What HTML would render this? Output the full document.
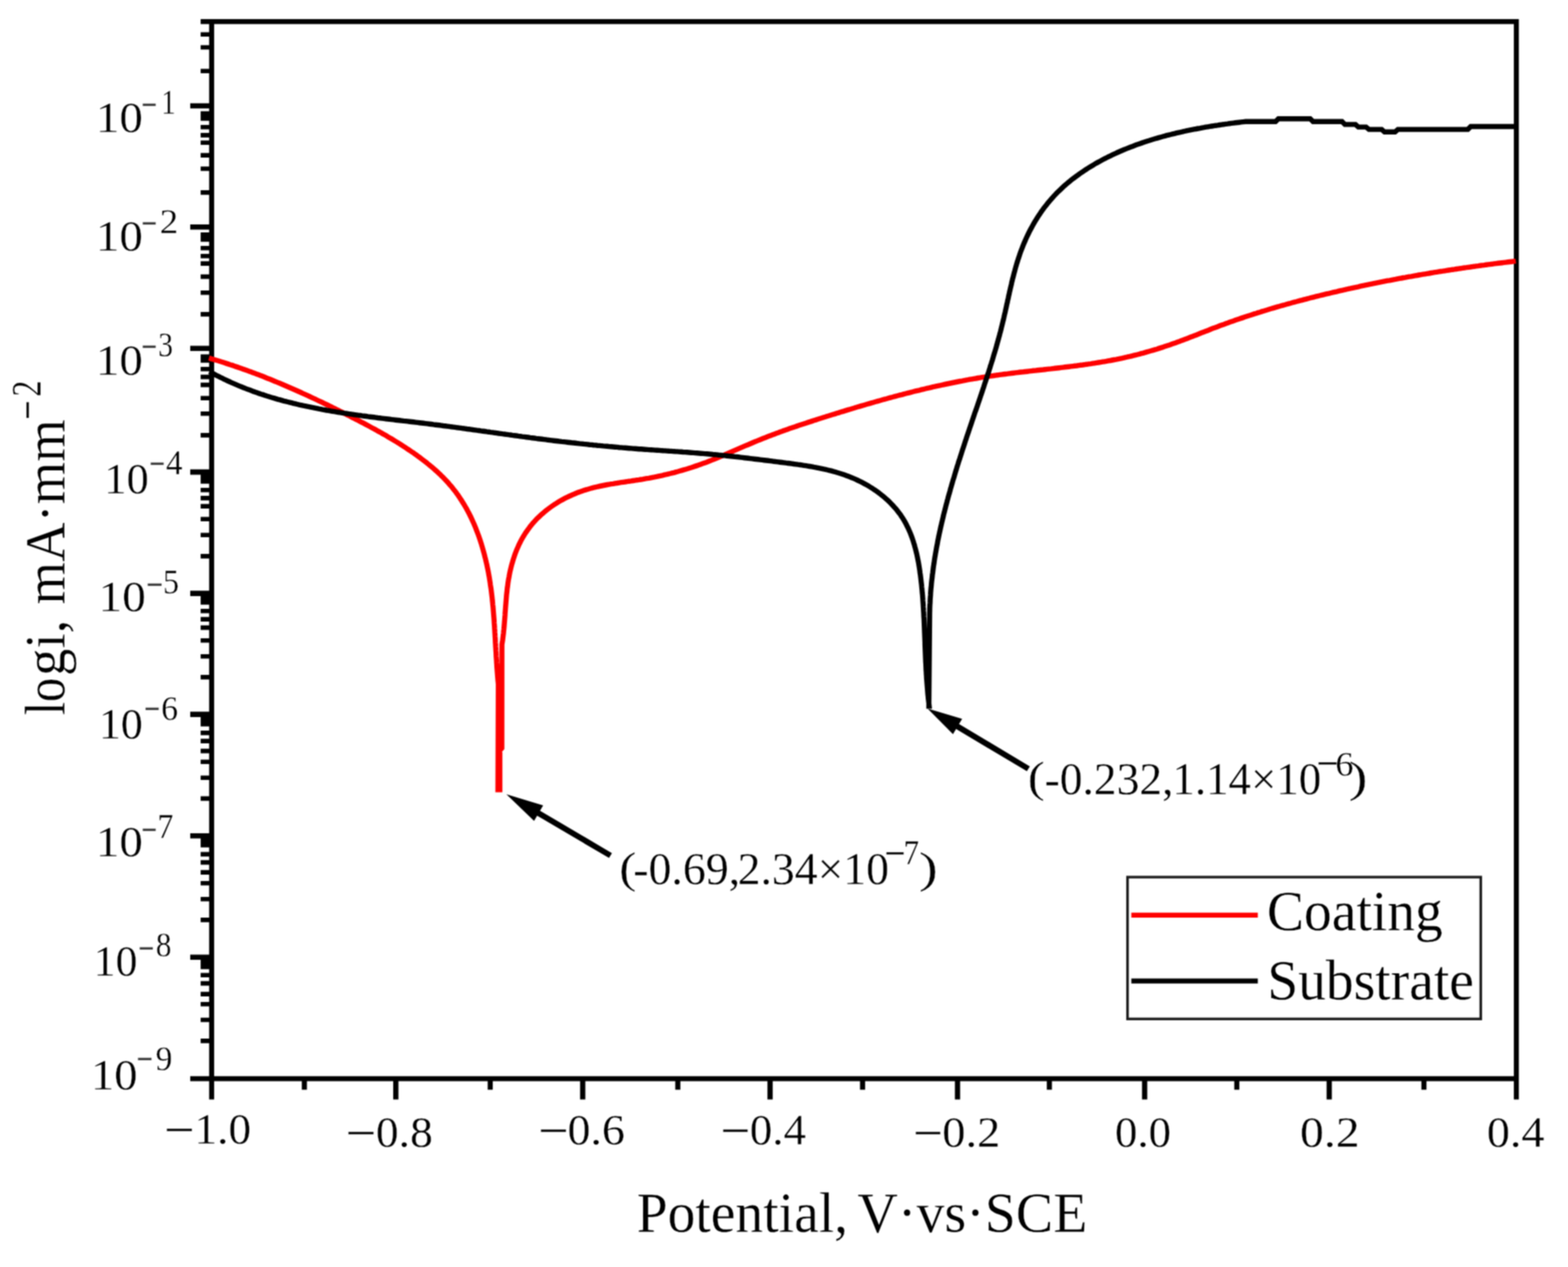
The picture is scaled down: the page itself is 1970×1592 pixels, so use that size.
<!DOCTYPE html>
<html lang="en">
<head>
<meta charset="utf-8">
<title>Polarization curves: Coating vs Substrate</title>
<style>
html,body{margin:0;padding:0;background:#fff;}
body{width:1970px;height:1592px;overflow:hidden;}
svg{display:block;}
svg text{font-family:'Liberation Serif', serif;font-kerning:none;white-space:pre;stroke:#fff;stroke-width:0.3px;}
</style>
</head>
<body>
<svg xmlns="http://www.w3.org/2000/svg" width="1970" height="1592" viewBox="0 0 1970 1592">
<rect width="1970" height="1592" fill="#fff"/>
<defs><filter id="soft" filterUnits="userSpaceOnUse" x="0" y="0" width="1970" height="1592" color-interpolation-filters="sRGB"><feConvolveMatrix order="3" kernelMatrix="1 2 1 2 4 2 1 2 1" divisor="16" edgeMode="duplicate" preserveAlpha="false"/></filter></defs>
<g id="c" filter="url(#soft)">
<g stroke="#000" fill="none" stroke-linecap="butt">
<path stroke-width="6.3" d="M252.1 27.1H1908.25M1905.1 23.950000000000003V1381.6M239.0 1355.3H1905.1M265.9 27.1V1381.6"/>
<path stroke-width="6.6" d="M239.0 133.0H265.9M239.0 285.2H265.9M239.0 437.8H265.9M239.0 593.1H265.9M239.0 745.6H265.9M239.0 897.6H265.9M239.0 1050.2H265.9M239.0 1202.7H265.9M497.3 1355.3V1381.6M732.1 1355.3V1381.6M967.5 1355.3V1381.6M1203.0 1355.3V1381.6M1438.1 1355.3V1381.6M1670.0 1355.3V1381.6"/>
<path stroke-width="5.6" d="M252.1 43.3H265.9M252.1 59.5H265.9M252.1 89.3H265.9M252.1 159.7H265.9M252.1 169.9H265.9M252.1 179.2H265.9M252.1 195.1H265.9M252.1 212.0H265.9M252.1 241.9H265.9M252.1 311.7H265.9M252.1 321.7H265.9M252.1 331.1H265.9M252.1 347.6H265.9M252.1 367.7H265.9M252.1 394.9H265.9M252.1 463.7H265.9M252.1 473.6H265.9M252.1 483.6H265.9M252.1 500.2H265.9M252.1 519.7H265.9M252.1 546.9H265.9M252.1 615.7H265.9M252.1 625.9H265.9M252.1 636.1H265.9M252.1 652.2H265.9M252.1 672.3H265.9M252.1 698.9H265.9M252.1 767.7H265.9M252.1 778.1H265.9M252.1 788.6H265.9M252.1 804.7H265.9M252.1 824.8H265.9M252.1 850.9H265.9M252.1 920.9H265.9M252.1 931.1H265.9M252.1 943.6H265.9M252.1 957.2H265.9M252.1 977.3H265.9M252.1 1003.4H265.9M252.1 1073.4H265.9M252.1 1083.6H265.9M252.1 1096.1H265.9M252.1 1109.7H265.9M252.1 1129.8H265.9M252.1 1155.9H265.9M252.1 1225.2H265.9M252.1 1235.6H265.9M252.1 1249.1H265.9M252.1 1261.7H265.9M252.1 1281.5H265.9M252.1 1307.9H265.9"/>
<path stroke-width="6.4" d="M382.4 1355.3V1369.2M615.9 1355.3V1369.2M851.6 1355.3V1369.2M1083.7 1355.3V1369.2M1318.4 1355.3V1369.2M1553.9 1355.3V1369.2M1789.0 1355.3V1369.2"/>
<path stroke="none" fill="#000" d="M252.1 139.7H265.9V151.8H252.1ZM252.1 292.1H265.9V303.7H252.1ZM252.1 445.2H265.9V455.8H252.1ZM252.1 593.1H265.9V607.7H252.1ZM252.1 745.6H265.9V759.7H252.1ZM252.1 897.6H265.9V912.7H252.1ZM252.1 1050.2H265.9V1064.7H252.1ZM252.1 1202.7H265.9V1217.7H252.1Z"/>
</g>
<path d="M262.5 449.9L264.9 450.6L267.4 451.3L269.8 452.1L272.2 452.8L274.7 453.5L277.1 454.3L279.5 455.0L281.9 455.8L284.3 456.6L286.7 457.4L289.1 458.2L291.5 458.9L293.9 459.8L296.3 460.6L298.7 461.4L301.1 462.2L303.4 463.0L305.8 463.9L308.2 464.7L310.5 465.6L312.9 466.4L315.3 467.3L317.6 468.2L320.0 469.1L322.3 469.9L324.7 470.8L327.0 471.7L329.3 472.6L331.7 473.5L334.0 474.5L336.3 475.4L338.6 476.3L341.0 477.3L343.3 478.2L345.6 479.2L347.9 480.1L350.2 481.1L352.5 482.0L354.8 483.0L357.1 484.0L359.4 485.0L361.7 486.0L364.0 487.0L366.3 488.0L368.6 489.0L370.9 490.0L373.2 491.0L375.4 492.0L377.7 493.0L380.0 494.1L382.3 495.1L384.5 496.1L386.8 497.2L389.1 498.2L391.3 499.3L393.6 500.4L395.9 501.4L398.1 502.5L400.4 503.6L402.7 504.6L404.9 505.7L407.2 506.8L409.4 507.9L411.7 509.0L413.9 510.1L416.2 511.2L418.4 512.3L420.7 513.4L422.9 514.5L425.2 515.7L427.4 516.8L429.7 517.9L431.9 519.1L434.2 520.2L436.4 521.3L438.7 522.5L440.9 523.6L443.1 524.8L445.4 525.9L447.6 527.1L449.9 528.2L452.1 529.4L454.4 530.6L456.6 531.7L458.8 532.9L461.1 534.1L463.3 535.3L465.5 536.5L467.7 537.7L470.0 538.9L472.2 540.1L474.4 541.4L476.6 542.6L478.8 543.8L481.0 545.1L483.2 546.3L485.4 547.6L487.6 548.9L489.8 550.2L491.9 551.4L494.1 552.7L496.3 554.1L498.4 555.4L500.6 556.7L502.7 558.1L504.9 559.4L507.0 560.8L509.1 562.2L511.2 563.6L513.3 565.0L515.4 566.4L517.5 567.8L519.6 569.2L521.6 570.7L523.7 572.2L525.7 573.7L527.8 575.2L529.8 576.7L531.8 578.2L533.8 579.7L535.8 581.3L537.7 582.9L539.7 584.5L541.6 586.1L543.6 587.7L545.5 589.4L547.3 591.0L549.2 592.7L551.0 594.4L552.9 596.1L554.7 597.9L556.4 599.6L558.2 601.4L559.9 603.2L561.6 605.0L563.3 606.9L564.9 608.8L566.5 610.6L568.1 612.6L569.6 614.5L571.2 616.4L572.7 618.4L574.1 620.4L575.6 622.4L577.0 624.5L578.3 626.5L579.7 628.6L581.0 630.7L582.3 632.8L583.6 634.9L584.8 637.0L586.1 639.2L587.3 641.4L588.4 643.6L589.6 645.8L590.7 648.0L591.8 650.2L592.8 652.5L593.9 654.8L594.9 657.0L595.9 659.3L596.9 661.6L597.8 663.9L598.7 666.3L599.6 668.6L600.5 671.0L601.4 673.3L602.2 675.7L603.0 678.1L603.8 680.5L604.6 682.9L605.3 685.3L606.0 687.7L606.7 690.1L607.4 692.6L608.1 695.0L608.7 697.5L609.3 699.9L610.0 702.4L610.5 704.8L611.1 707.3L611.7 709.8L612.2 712.3L612.7 714.7L613.2 717.2L613.7 719.7L614.1 722.2L614.6 724.7L615.0 727.2L615.4 729.7L615.8 732.2L616.1 734.7L616.5 737.2L616.9 739.7L617.2 742.2L617.5 744.7L617.8 747.2L618.1 749.7L618.4 752.2L618.6 754.7L618.9 757.3L619.1 759.8L619.4 762.3L619.6 764.8L619.8 767.3L620.0 769.8L620.2 772.3L620.4 774.8L620.6 777.3L620.8 779.9L620.9 782.4L621.1 784.9L621.3 787.4L621.4 789.9L621.6 792.4L621.7 794.9L621.9 797.4L622.0 799.9L622.2 802.5L622.3 805.0L622.4 807.5L622.6 810.0L622.7 812.5L622.9 815.0L623.0 817.5L623.2 820.0L623.3 822.5L623.4 825.0L623.6 827.5L623.8 830.0L623.9 832.5L624.1 835.0L624.2 837.5L624.4 840.0L624.6 842.5L624.8 845.0L625.0 847.4L625.2 849.9L625.4 852.4L625.6 854.9L625.9 857.4L626.1 859.8L625.6 992.3L628.0 992.3L628.0 943.0L630.5 940.0L630.6 809.8L631.0 807.4L631.4 805.0L631.7 802.6L632.0 800.2L632.3 797.7L632.6 795.3L632.8 792.8L633.1 790.3L633.3 787.9L633.5 785.4L633.7 782.9L633.9 780.4L634.1 777.9L634.3 775.4L634.5 772.9L634.6 770.4L634.8 767.9L635.0 765.4L635.2 762.8L635.4 760.3L635.6 757.8L635.8 755.3L636.0 752.8L636.2 750.2L636.4 747.7L636.7 745.2L637.0 742.7L637.2 740.1L637.6 737.6L637.9 735.1L638.2 732.6L638.6 730.1L639.0 727.6L639.5 725.1L639.9 722.6L640.4 720.2L640.9 717.7L641.5 715.2L642.1 712.8L642.7 710.3L643.4 707.9L644.1 705.5L644.8 703.1L645.6 700.7L646.4 698.3L647.2 695.9L648.1 693.6L649.0 691.3L650.0 689.0L651.0 686.7L652.0 684.4L653.1 682.2L654.2 680.0L655.4 677.8L656.6 675.6L657.9 673.5L659.2 671.4L660.5 669.3L661.9 667.3L663.3 665.3L664.8 663.3L666.3 661.3L667.8 659.4L669.4 657.5L671.1 655.7L672.7 653.9L674.4 652.1L676.2 650.3L678.0 648.6L679.8 646.9L681.7 645.3L683.6 643.6L685.5 642.0L687.4 640.5L689.4 639.0L691.4 637.5L693.5 636.0L695.5 634.6L697.6 633.3L699.7 631.9L701.9 630.6L704.0 629.3L706.2 628.1L708.4 626.9L710.7 625.7L712.9 624.6L715.2 623.5L717.5 622.5L719.8 621.4L722.1 620.5L724.4 619.5L726.7 618.6L729.1 617.8L731.5 616.9L733.8 616.1L736.2 615.4L738.6 614.7L741.0 614.0L743.4 613.3L745.8 612.7L748.3 612.1L750.7 611.5L753.1 611.0L755.6 610.5L758.0 610.0L760.5 609.5L763.0 609.0L765.4 608.6L767.9 608.2L770.4 607.8L772.9 607.3L775.4 607.0L777.8 606.6L780.3 606.2L782.8 605.8L785.3 605.5L787.8 605.1L790.3 604.7L792.8 604.4L795.3 604.0L797.8 603.6L800.2 603.2L802.7 602.9L805.2 602.5L807.7 602.1L810.2 601.6L812.6 601.2L815.1 600.8L817.6 600.3L820.0 599.8L822.5 599.4L825.0 598.9L827.4 598.3L829.9 597.8L832.3 597.3L834.8 596.7L837.2 596.2L839.6 595.6L842.0 595.0L844.5 594.4L846.9 593.8L849.3 593.1L851.7 592.5L854.1 591.8L856.5 591.1L858.9 590.4L861.3 589.7L863.7 589.0L866.1 588.2L868.5 587.5L870.8 586.7L873.2 585.9L875.6 585.1L877.9 584.3L880.3 583.4L882.6 582.6L885.0 581.7L887.3 580.9L889.7 580.0L892.0 579.1L894.3 578.1L896.6 577.2L899.0 576.3L901.3 575.3L903.6 574.3L905.9 573.4L908.2 572.4L910.5 571.4L912.8 570.4L915.1 569.4L917.4 568.4L919.7 567.4L922.0 566.4L924.3 565.4L926.6 564.4L928.9 563.4L931.2 562.4L933.5 561.4L935.8 560.4L938.1 559.4L940.5 558.5L942.8 557.5L945.1 556.5L947.4 555.5L949.7 554.6L952.0 553.6L954.3 552.7L956.7 551.7L959.0 550.8L961.3 549.9L963.6 549.0L966.0 548.1L968.3 547.2L970.7 546.3L973.0 545.4L975.3 544.5L977.7 543.7L980.0 542.8L982.4 542.0L984.7 541.1L987.1 540.3L989.5 539.4L991.8 538.6L994.2 537.8L996.5 537.0L998.9 536.2L1001.3 535.4L1003.6 534.6L1006.0 533.8L1008.4 533.0L1010.8 532.2L1013.1 531.4L1015.5 530.6L1017.9 529.9L1020.3 529.1L1022.7 528.3L1025.0 527.6L1027.4 526.8L1029.8 526.0L1032.2 525.3L1034.6 524.5L1037.0 523.8L1039.4 523.0L1041.8 522.3L1044.2 521.5L1046.5 520.8L1048.9 520.1L1051.3 519.3L1053.7 518.6L1056.1 517.8L1058.5 517.1L1060.9 516.4L1063.3 515.6L1065.7 514.9L1068.1 514.2L1070.5 513.5L1072.9 512.8L1075.3 512.0L1077.7 511.3L1080.1 510.6L1082.5 509.9L1084.9 509.2L1087.3 508.5L1089.7 507.8L1092.2 507.1L1094.6 506.4L1097.0 505.7L1099.4 505.0L1101.8 504.3L1104.2 503.7L1106.6 503.0L1109.0 502.3L1111.4 501.6L1113.9 501.0L1116.3 500.3L1118.7 499.6L1121.1 499.0L1123.5 498.3L1126.0 497.7L1128.4 497.0L1130.8 496.4L1133.2 495.8L1135.7 495.1L1138.1 494.5L1140.5 493.9L1142.9 493.3L1145.4 492.7L1147.8 492.0L1150.2 491.4L1152.7 490.8L1155.1 490.3L1157.5 489.7L1160.0 489.1L1162.4 488.5L1164.8 487.9L1167.3 487.4L1169.7 486.8L1172.2 486.2L1174.6 485.7L1177.0 485.1L1179.5 484.6L1181.9 484.1L1184.4 483.5L1186.8 483.0L1189.3 482.5L1191.7 482.0L1194.2 481.5L1196.6 481.0L1199.1 480.5L1201.5 480.0L1204.0 479.5L1206.5 479.0L1208.9 478.6L1211.4 478.1L1213.8 477.6L1216.3 477.2L1218.8 476.7L1221.2 476.3L1223.7 475.9L1226.2 475.5L1228.6 475.0L1231.1 474.6L1233.6 474.2L1236.1 473.8L1238.5 473.5L1241.0 473.1L1243.5 472.7L1246.0 472.3L1248.4 472.0L1250.9 471.6L1253.4 471.3L1255.9 470.9L1258.4 470.6L1260.8 470.3L1263.3 470.0L1265.8 469.7L1268.3 469.3L1270.8 469.0L1273.3 468.7L1275.8 468.4L1278.3 468.1L1280.7 467.8L1283.2 467.5L1285.7 467.3L1288.2 467.0L1290.7 466.7L1293.2 466.4L1295.7 466.1L1298.2 465.8L1300.7 465.6L1303.2 465.3L1305.7 465.0L1308.2 464.7L1310.6 464.5L1313.1 464.2L1315.6 463.9L1318.1 463.6L1320.6 463.4L1323.1 463.1L1325.6 462.8L1328.1 462.5L1330.6 462.2L1333.1 461.9L1335.6 461.6L1338.0 461.3L1340.5 461.0L1343.0 460.7L1345.5 460.4L1348.0 460.1L1350.5 459.8L1353.0 459.5L1355.4 459.1L1357.9 458.8L1360.4 458.5L1362.9 458.1L1365.3 457.8L1367.8 457.4L1370.3 457.1L1372.8 456.7L1375.2 456.3L1377.7 455.9L1380.2 455.5L1382.7 455.1L1385.1 454.7L1387.6 454.3L1390.0 453.9L1392.5 453.4L1395.0 453.0L1397.4 452.5L1399.9 452.0L1402.3 451.6L1404.8 451.1L1407.2 450.6L1409.7 450.1L1412.1 449.5L1414.6 449.0L1417.0 448.4L1419.4 447.9L1421.9 447.3L1424.3 446.7L1426.7 446.1L1429.2 445.5L1431.6 444.9L1434.0 444.2L1436.4 443.6L1438.8 442.9L1441.3 442.2L1443.7 441.5L1446.1 440.8L1448.5 440.1L1450.9 439.4L1453.3 438.7L1455.7 437.9L1458.1 437.1L1460.5 436.4L1462.8 435.6L1465.2 434.8L1467.6 434.0L1470.0 433.2L1472.4 432.3L1474.7 431.5L1477.1 430.7L1479.5 429.8L1481.8 429.0L1484.2 428.1L1486.5 427.2L1488.9 426.3L1491.2 425.4L1493.6 424.5L1495.9 423.6L1498.2 422.7L1500.6 421.8L1502.9 420.9L1505.2 420.0L1507.6 419.0L1509.9 418.1L1512.2 417.2L1514.6 416.3L1516.9 415.4L1519.2 414.5L1521.5 413.5L1523.9 412.6L1526.2 411.8L1528.6 410.9L1530.9 410.0L1533.2 409.1L1535.6 408.2L1537.9 407.4L1540.3 406.5L1542.6 405.7L1545.0 404.8L1547.4 404.0L1549.7 403.2L1552.1 402.3L1554.4 401.5L1556.8 400.7L1559.2 399.9L1561.6 399.1L1563.9 398.3L1566.3 397.5L1568.7 396.7L1571.1 396.0L1573.4 395.2L1575.8 394.4L1578.2 393.7L1580.6 392.9L1583.0 392.2L1585.4 391.4L1587.8 390.7L1590.2 390.0L1592.5 389.3L1594.9 388.5L1597.3 387.8L1599.7 387.1L1602.1 386.4L1604.6 385.7L1607.0 385.0L1609.4 384.3L1611.8 383.6L1614.2 383.0L1616.6 382.3L1619.0 381.6L1621.4 381.0L1623.8 380.3L1626.2 379.6L1628.7 379.0L1631.1 378.3L1633.5 377.7L1635.9 377.1L1638.4 376.4L1640.8 375.8L1643.2 375.2L1645.6 374.5L1648.1 373.9L1650.5 373.3L1652.9 372.7L1655.3 372.1L1657.8 371.5L1660.2 370.9L1662.6 370.3L1665.1 369.7L1667.5 369.1L1670.0 368.6L1672.4 368.0L1674.8 367.4L1677.3 366.8L1679.7 366.3L1682.2 365.7L1684.6 365.1L1687.0 364.6L1689.5 364.0L1691.9 363.5L1694.4 362.9L1696.8 362.4L1699.3 361.8L1701.7 361.3L1704.2 360.8L1706.6 360.3L1709.1 359.7L1711.5 359.2L1714.0 358.7L1716.4 358.2L1718.9 357.7L1721.3 357.2L1723.8 356.7L1726.2 356.2L1728.7 355.7L1731.2 355.2L1733.6 354.7L1736.1 354.2L1738.5 353.7L1741.0 353.2L1743.4 352.7L1745.9 352.3L1748.4 351.8L1750.8 351.3L1753.3 350.9L1755.8 350.4L1758.2 349.9L1760.7 349.5L1763.2 349.0L1765.6 348.6L1768.1 348.1L1770.6 347.7L1773.0 347.3L1775.5 346.8L1778.0 346.4L1780.4 346.0L1782.9 345.5L1785.4 345.1L1787.8 344.7L1790.3 344.3L1792.8 343.9L1795.3 343.5L1797.7 343.0L1800.2 342.6L1802.7 342.2L1805.2 341.8L1807.6 341.4L1810.1 341.0L1812.6 340.7L1815.1 340.3L1817.5 339.9L1820.0 339.5L1822.5 339.1L1825.0 338.7L1827.4 338.4L1829.9 338.0L1832.4 337.6L1834.9 337.3L1837.4 336.9L1839.8 336.5L1842.3 336.2L1844.8 335.8L1847.3 335.5L1849.8 335.1L1852.2 334.8L1854.7 334.4L1857.2 334.1L1859.7 333.7L1862.2 333.4L1864.7 333.1L1867.1 332.7L1869.6 332.4L1872.1 332.1L1874.6 331.8L1877.1 331.4L1879.5 331.1L1882.0 330.8L1884.5 330.5L1887.0 330.2L1889.5 329.9L1892.0 329.6L1894.5 329.3L1896.9 329.0L1899.4 328.7L1901.9 328.4L1904.4 328.1" fill="none" stroke="#ff0000" stroke-width="6.4" stroke-linejoin="miter" stroke-miterlimit="3"/>
<path d="M263.2 466.9L265.4 468.2L267.7 469.4L269.9 470.6L272.2 471.8L274.5 472.9L276.8 474.1L279.1 475.2L281.3 476.3L283.6 477.4L285.9 478.5L288.2 479.5L290.5 480.6L292.9 481.6L295.2 482.6L297.5 483.6L299.8 484.6L302.1 485.6L304.5 486.5L306.8 487.4L309.1 488.4L311.5 489.3L313.8 490.1L316.2 491.0L318.5 491.9L320.9 492.7L323.2 493.5L325.6 494.4L328.0 495.2L330.4 495.9L332.7 496.7L335.1 497.5L337.5 498.2L339.9 499.0L342.3 499.7L344.7 500.4L347.0 501.1L349.4 501.8L351.8 502.4L354.2 503.1L356.7 503.8L359.1 504.4L361.5 505.0L363.9 505.6L366.3 506.2L368.7 506.8L371.2 507.4L373.6 508.0L376.0 508.6L378.4 509.1L380.9 509.7L383.3 510.2L385.7 510.7L388.2 511.2L390.6 511.7L393.1 512.2L395.5 512.7L398.0 513.2L400.4 513.7L402.9 514.1L405.3 514.6L407.8 515.0L410.2 515.5L412.7 515.9L415.2 516.4L417.6 516.8L420.1 517.2L422.6 517.6L425.0 518.0L427.5 518.4L430.0 518.8L432.5 519.2L434.9 519.5L437.4 519.9L439.9 520.3L442.4 520.6L444.8 521.0L447.3 521.3L449.8 521.7L452.3 522.0L454.8 522.4L457.3 522.7L459.8 523.0L462.2 523.4L464.7 523.7L467.2 524.0L469.7 524.3L472.2 524.6L474.7 525.0L477.2 525.3L479.7 525.6L482.2 525.9L484.7 526.2L487.2 526.5L489.6 526.8L492.1 527.1L494.6 527.4L497.1 527.7L499.6 528.0L502.1 528.3L504.6 528.6L507.1 528.9L509.6 529.1L512.1 529.4L514.6 529.7L517.1 530.0L519.6 530.3L522.1 530.6L524.6 530.9L527.1 531.2L529.6 531.5L532.0 531.8L534.5 532.1L537.0 532.4L539.5 532.7L542.0 533.0L544.5 533.4L547.0 533.7L549.5 534.0L552.0 534.3L554.5 534.6L556.9 535.0L559.4 535.3L561.9 535.6L564.4 535.9L566.9 536.3L569.4 536.6L571.8 536.9L574.3 537.3L576.8 537.6L579.3 537.9L581.8 538.3L584.3 538.6L586.7 539.0L589.2 539.3L591.7 539.6L594.2 540.0L596.6 540.3L599.1 540.7L601.6 541.0L604.1 541.4L606.6 541.7L609.0 542.0L611.5 542.4L614.0 542.7L616.5 543.1L619.0 543.4L621.4 543.8L623.9 544.1L626.4 544.5L628.9 544.8L631.3 545.2L633.8 545.5L636.3 545.8L638.8 546.2L641.2 546.5L643.7 546.9L646.2 547.2L648.7 547.5L651.2 547.9L653.6 548.2L656.1 548.6L658.6 548.9L661.1 549.2L663.5 549.5L666.0 549.9L668.5 550.2L671.0 550.5L673.5 550.9L675.9 551.2L678.4 551.5L680.9 551.8L683.4 552.1L685.9 552.4L688.4 552.8L690.8 553.1L693.3 553.4L695.8 553.7L698.3 554.0L700.8 554.3L703.3 554.6L705.7 554.9L708.2 555.1L710.7 555.4L713.2 555.7L715.7 556.0L718.2 556.3L720.7 556.5L723.1 556.8L725.6 557.1L728.1 557.4L730.6 557.6L733.1 557.9L735.6 558.1L738.1 558.4L740.6 558.7L743.1 558.9L745.6 559.2L748.1 559.4L750.6 559.7L753.1 559.9L755.5 560.1L758.0 560.4L760.5 560.6L763.0 560.8L765.5 561.1L768.0 561.3L770.5 561.5L773.0 561.7L775.5 561.9L778.0 562.2L780.5 562.4L783.0 562.6L785.5 562.8L788.0 563.0L790.5 563.2L793.0 563.4L795.5 563.6L798.0 563.8L800.5 564.0L803.0 564.2L805.6 564.3L808.1 564.5L810.6 564.7L813.1 564.9L815.6 565.1L818.1 565.2L820.6 565.4L823.1 565.6L825.6 565.7L828.1 565.9L830.6 566.1L833.1 566.3L835.6 566.4L838.1 566.6L840.6 566.8L843.1 566.9L845.6 567.1L848.2 567.3L850.7 567.4L853.2 567.6L855.7 567.8L858.2 568.0L860.7 568.1L863.2 568.3L865.7 568.5L868.2 568.7L870.7 568.9L873.2 569.1L875.7 569.3L878.1 569.5L880.6 569.7L883.1 569.9L885.6 570.1L888.1 570.3L890.6 570.5L893.1 570.7L895.6 571.0L898.1 571.2L900.5 571.4L903.0 571.7L905.5 571.9L908.0 572.2L910.5 572.4L912.9 572.7L915.4 573.0L917.9 573.2L920.4 573.5L922.8 573.8L925.3 574.0L927.8 574.3L930.3 574.6L932.7 574.9L935.2 575.2L937.7 575.5L940.2 575.8L942.6 576.1L945.1 576.4L947.6 576.7L950.1 577.0L952.6 577.3L955.0 577.6L957.5 577.9L960.0 578.2L962.5 578.5L965.0 578.8L967.5 579.1L969.9 579.4L972.4 579.8L974.9 580.1L977.4 580.4L979.9 580.7L982.4 581.0L984.9 581.3L987.4 581.7L989.9 582.0L992.4 582.3L994.9 582.6L997.4 583.0L1000.0 583.3L1002.5 583.7L1005.0 584.0L1007.5 584.4L1010.0 584.8L1012.5 585.2L1015.0 585.6L1017.4 586.0L1019.9 586.4L1022.4 586.9L1024.9 587.3L1027.4 587.8L1029.9 588.3L1032.3 588.8L1034.8 589.4L1037.2 589.9L1039.7 590.5L1042.1 591.1L1044.5 591.7L1047.0 592.4L1049.4 593.0L1051.8 593.8L1054.2 594.5L1056.6 595.2L1059.0 596.0L1061.3 596.8L1063.7 597.7L1066.0 598.6L1068.4 599.5L1070.7 600.4L1073.0 601.4L1075.3 602.4L1077.6 603.5L1079.9 604.6L1082.1 605.7L1084.4 606.9L1086.6 608.1L1088.8 609.3L1091.0 610.6L1093.1 611.9L1095.3 613.2L1097.4 614.6L1099.5 616.0L1101.5 617.4L1103.6 618.9L1105.6 620.4L1107.5 622.0L1109.5 623.5L1111.4 625.1L1113.3 626.8L1115.1 628.4L1116.9 630.1L1118.7 631.9L1120.4 633.7L1122.1 635.5L1123.7 637.3L1125.4 639.2L1126.9 641.0L1128.4 643.0L1129.9 644.9L1131.4 646.9L1132.7 648.9L1134.1 651.0L1135.4 653.1L1136.6 655.2L1137.8 657.3L1138.9 659.5L1140.0 661.7L1141.1 663.9L1142.1 666.2L1143.1 668.4L1144.0 670.7L1144.9 673.0L1145.8 675.4L1146.6 677.7L1147.4 680.1L1148.1 682.5L1148.9 684.9L1149.5 687.3L1150.2 689.7L1150.8 692.2L1151.4 694.6L1152.0 697.1L1152.5 699.6L1153.0 702.1L1153.5 704.6L1154.0 707.1L1154.4 709.6L1154.8 712.1L1155.2 714.6L1155.6 717.1L1155.9 719.7L1156.3 722.2L1156.6 724.7L1156.9 727.2L1157.2 729.8L1157.5 732.3L1157.8 734.8L1158.0 737.3L1158.3 739.8L1158.5 742.4L1158.7 744.9L1159.0 747.4L1159.2 749.9L1159.4 752.4L1159.5 754.9L1159.7 757.4L1159.9 759.9L1160.0 762.4L1160.2 764.9L1160.3 767.4L1160.5 769.9L1160.6 772.4L1160.7 774.9L1160.9 777.4L1161.0 779.9L1161.1 782.4L1161.2 784.9L1161.3 787.4L1161.4 789.8L1161.5 792.3L1161.6 794.8L1161.7 797.3L1161.8 799.8L1161.9 802.3L1162.0 804.8L1162.1 807.3L1162.1 809.7L1162.2 812.2L1162.3 814.7L1162.4 817.2L1162.5 819.7L1162.6 822.2L1162.7 824.7L1162.8 827.2L1162.9 829.6L1163.0 832.1L1163.2 834.6L1163.3 837.1L1163.4 839.6L1163.5 842.1L1163.7 844.6L1163.8 847.1L1164.0 849.6L1164.1 852.1L1164.3 854.6L1164.5 857.1L1164.7 859.6L1164.9 862.1L1165.1 864.6L1165.3 867.1L1165.5 869.6L1165.7 872.1L1166.0 874.6L1166.2 877.1L1166.5 879.7L1166.8 882.2L1167.1 884.7L1167.4 887.2L1167.0 887.2L1168.0 770.2L1168.1 767.7L1168.1 765.1L1168.2 762.6L1168.3 760.1L1168.5 757.5L1168.6 755.0L1168.7 752.5L1168.9 750.0L1169.1 747.5L1169.2 745.0L1169.4 742.5L1169.6 739.9L1169.9 737.4L1170.1 734.9L1170.3 732.4L1170.6 729.9L1170.9 727.4L1171.2 724.9L1171.4 722.5L1171.8 720.0L1172.1 717.5L1172.4 715.0L1172.7 712.5L1173.1 710.0L1173.5 707.6L1173.8 705.1L1174.2 702.6L1174.6 700.1L1175.0 697.7L1175.4 695.2L1175.9 692.7L1176.3 690.2L1176.7 687.8L1177.2 685.3L1177.7 682.9L1178.1 680.4L1178.6 677.9L1179.1 675.5L1179.6 673.0L1180.1 670.6L1180.7 668.1L1181.2 665.7L1181.7 663.3L1182.3 660.8L1182.8 658.4L1183.4 655.9L1184.0 653.5L1184.6 651.0L1185.2 648.6L1185.7 646.2L1186.4 643.7L1187.0 641.3L1187.6 638.9L1188.2 636.5L1188.8 634.0L1189.5 631.6L1190.1 629.2L1190.8 626.8L1191.4 624.3L1192.1 621.9L1192.8 619.5L1193.5 617.1L1194.1 614.7L1194.8 612.3L1195.5 609.9L1196.2 607.5L1196.9 605.0L1197.6 602.6L1198.4 600.2L1199.1 597.8L1199.8 595.4L1200.5 593.0L1201.3 590.6L1202.0 588.2L1202.7 585.8L1203.5 583.4L1204.2 581.0L1205.0 578.6L1205.8 576.2L1206.5 573.9L1207.3 571.5L1208.1 569.1L1208.8 566.7L1209.6 564.3L1210.4 561.9L1211.2 559.5L1212.0 557.1L1212.7 554.8L1213.5 552.4L1214.3 550.0L1215.1 547.6L1215.9 545.2L1216.7 542.9L1217.5 540.5L1218.3 538.1L1219.1 535.7L1219.9 533.4L1220.7 531.0L1221.5 528.6L1222.3 526.2L1223.1 523.9L1223.9 521.5L1224.7 519.1L1225.5 516.8L1226.4 514.4L1227.2 512.0L1228.0 509.7L1228.8 507.3L1229.6 504.9L1230.4 502.6L1231.2 500.2L1232.0 497.8L1232.8 495.4L1233.6 493.1L1234.4 490.7L1235.2 488.3L1236.0 486.0L1236.7 483.6L1237.5 481.2L1238.3 478.9L1239.1 476.5L1239.9 474.1L1240.6 471.7L1241.4 469.4L1242.2 467.0L1242.9 464.6L1243.7 462.2L1244.4 459.8L1245.2 457.4L1245.9 455.1L1246.7 452.7L1247.4 450.3L1248.1 447.9L1248.8 445.5L1249.6 443.1L1250.3 440.7L1251.0 438.3L1251.7 435.9L1252.4 433.5L1253.0 431.1L1253.7 428.6L1254.4 426.2L1255.0 423.8L1255.7 421.4L1256.3 419.0L1257.0 416.5L1257.6 414.1L1258.2 411.6L1258.8 409.2L1259.4 406.8L1260.0 404.3L1260.6 401.9L1261.2 399.4L1261.7 396.9L1262.3 394.5L1262.9 392.0L1263.4 389.6L1264.0 387.1L1264.5 384.6L1265.0 382.2L1265.6 379.7L1266.1 377.2L1266.7 374.7L1267.2 372.3L1267.8 369.8L1268.3 367.3L1268.9 364.9L1269.4 362.4L1270.0 359.9L1270.6 357.5L1271.1 355.0L1271.7 352.6L1272.3 350.1L1273.0 347.7L1273.6 345.2L1274.2 342.8L1274.9 340.4L1275.5 338.0L1276.2 335.5L1276.9 333.1L1277.6 330.7L1278.4 328.3L1279.1 325.9L1279.9 323.6L1280.7 321.2L1281.5 318.8L1282.3 316.5L1283.2 314.1L1284.1 311.8L1285.0 309.5L1285.9 307.2L1286.9 304.9L1287.9 302.6L1288.9 300.3L1289.9 298.0L1291.0 295.8L1292.1 293.5L1293.2 291.3L1294.3 289.1L1295.5 286.9L1296.7 284.7L1297.9 282.5L1299.1 280.4L1300.4 278.2L1301.7 276.1L1303.0 274.0L1304.3 271.9L1305.7 269.8L1307.1 267.8L1308.5 265.7L1310.0 263.7L1311.4 261.7L1312.9 259.7L1314.5 257.8L1316.0 255.8L1317.6 253.9L1319.2 252.0L1320.8 250.1L1322.4 248.3L1324.1 246.4L1325.8 244.6L1327.5 242.8L1329.3 241.0L1331.1 239.3L1332.9 237.6L1334.7 235.9L1336.5 234.2L1338.4 232.5L1340.3 230.9L1342.2 229.3L1344.1 227.7L1346.1 226.1L1348.0 224.6L1350.0 223.1L1352.0 221.6L1354.1 220.1L1356.1 218.6L1358.2 217.2L1360.2 215.8L1362.3 214.4L1364.4 213.0L1366.5 211.6L1368.7 210.3L1370.8 209.0L1373.0 207.7L1375.1 206.4L1377.3 205.1L1379.5 203.9L1381.7 202.7L1383.9 201.5L1386.1 200.3L1388.4 199.1L1390.6 198.0L1392.8 196.9L1395.1 195.8L1397.4 194.7L1399.6 193.6L1401.9 192.6L1404.2 191.5L1406.5 190.5L1408.8 189.5L1411.1 188.5L1413.4 187.6L1415.7 186.6L1418.1 185.7L1420.4 184.8L1422.8 183.9L1425.1 183.0L1427.5 182.1L1429.8 181.3L1432.2 180.4L1434.6 179.6L1437.0 178.8L1439.3 178.0L1441.7 177.2L1444.1 176.5L1446.5 175.7L1448.9 175.0L1451.3 174.3L1453.8 173.6L1456.2 172.9L1458.6 172.2L1461.0 171.5L1463.5 170.9L1465.9 170.2L1468.3 169.6L1470.8 169.0L1473.2 168.4L1475.7 167.8L1478.1 167.2L1480.6 166.6L1483.0 166.1L1485.5 165.5L1487.9 165.0L1490.4 164.4L1492.9 163.9L1495.3 163.4L1497.8 162.9L1500.3 162.4L1502.7 162.0L1505.2 161.5L1507.7 161.1L1510.1 160.6L1512.6 160.2L1515.1 159.7L1517.5 159.3L1520.0 158.9L1522.5 158.5L1524.9 158.1L1527.4 157.7L1529.9 157.4L1532.3 157.0L1534.8 156.6L1537.3 156.3L1539.7 155.9L1542.2 155.6L1544.7 155.2L1547.1 154.9L1549.6 154.6L1552.0 154.3L1554.5 154.0L1556.9 153.7L1559.3 153.4L1561.8 153.1L1565.0 152.8L1602.6 152.8L1606.2 149.3L1646.1 149.3L1649.7 152.8L1686.1 152.8L1689.7 156.4L1703.0 156.4L1706.6 159.6L1716.3 159.6L1719.9 162.6L1735.9 162.6L1739.5 165.8L1752.7 165.8L1756.3 162.6L1844.2 162.6L1847.8 159.0L1904.0 159.0" fill="none" stroke="#000" stroke-width="6.4" stroke-linejoin="miter" stroke-miterlimit="3"/>
<path d="M636.2 997.9L671.0 1031.5L682.4 1012.1Z" fill="#000"/>
<path d="M675.0 1020.8L767.0 1075.0" stroke="#000" stroke-width="7.2" fill="none"/>
<path d="M1165.3 890.3L1197.3 922.5L1208.8 903.2Z" fill="#000"/>
<path d="M1201.4 911.8L1292.0 966.0" stroke="#000" stroke-width="7.2" fill="none"/>
<rect x="1416.6" y="1102.1" width="443.8" height="178.2" fill="#fff" stroke="#1c1c1c" stroke-width="3.3"/>
<path d="M1421.4 1149.8H1580.3" stroke="#ff0000" stroke-width="6.2"/>
<path d="M1421.4 1232.7H1580.3" stroke="#000" stroke-width="6.2"/>
<text transform="translate(1591.84 1169.30) scale(0.9689 1)" font-size="72.00" fill="#000">Coating</text>
<text transform="translate(1592.13 1255.70) scale(0.9691 1)" font-size="72.00" fill="#000">Substrate</text>
<text transform="translate(206.29 1443.48) scale(1.2532 1.3)" font-size="54.40" fill="#000">−</text>
<text transform="translate(244.30 1437.26) scale(1.0467 1)" font-size="54.40" fill="#000">1.0</text>
<text transform="translate(434.49 1446.68) scale(1.2532 1.3)" font-size="54.40" fill="#000">−</text>
<text transform="translate(472.33 1440.96) scale(1.0492 1)" font-size="54.40" fill="#000">0.8</text>
<text transform="translate(676.29 1443.68) scale(1.2532 1.3)" font-size="54.40" fill="#000">−</text>
<text transform="translate(712.90 1437.96) scale(1.0605 1)" font-size="54.40" fill="#000">0.6</text>
<text transform="translate(905.36 1443.68) scale(1.2294 1.3)" font-size="54.40" fill="#000">−</text>
<text transform="translate(941.94 1437.96) scale(1.0403 1)" font-size="54.40" fill="#000">0.4</text>
<text transform="translate(1147.26 1446.68) scale(1.2294 1.3)" font-size="54.40" fill="#000">−</text>
<text transform="translate(1183.67 1440.96) scale(1.0759 1)" font-size="54.40" fill="#000">0.2</text>
<text transform="translate(1400.65 1440.96) scale(1.0398 1)" font-size="54.40" fill="#000">0.0</text>
<text transform="translate(1633.21 1440.96) scale(1.1029 1)" font-size="54.40" fill="#000">0.2</text>
<text transform="translate(1867.99 1440.96) scale(1.0679 1)" font-size="54.40" fill="#000">0.4</text>
<text transform="translate(120.62 166.16) scale(1.0831 1)" font-size="54.40" fill="#000">10</text>
<text transform="translate(177.20 153.91) scale(0.7981 1.5)" font-size="45.00" fill="#333">−</text>
<text transform="translate(202.85 142.80) scale(0.7953 1)" font-size="45.00" fill="#000">1</text>
<text transform="translate(120.62 314.66) scale(1.0831 1)" font-size="54.40" fill="#000">10</text>
<text transform="translate(177.20 302.91) scale(0.7981 1.5)" font-size="45.00" fill="#333">−</text>
<text transform="translate(200.76 292.80) scale(1.0311 1)" font-size="45.00" fill="#000">2</text>
<text transform="translate(120.62 470.66) scale(1.0831 1)" font-size="54.40" fill="#000">10</text>
<text transform="translate(177.20 458.41) scale(0.7981 1.5)" font-size="45.00" fill="#333">−</text>
<text transform="translate(198.72 447.86) scale(0.8285 1)" font-size="45.00" fill="#000">3</text>
<text transform="translate(130.99 619.76) scale(1.0264 1)" font-size="54.40" fill="#000">10</text>
<text transform="translate(187.30 604.81) scale(0.7981 1.5)" font-size="45.00" fill="#333">−</text>
<text transform="translate(208.48 596.40) scale(0.9274 1)" font-size="45.00" fill="#000">4</text>
<text transform="translate(123.77 768.36) scale(1.0937 1)" font-size="54.40" fill="#000">10</text>
<text transform="translate(183.51 757.01) scale(0.8411 1.5)" font-size="45.00" fill="#333">−</text>
<text transform="translate(204.66 745.96) scale(0.8937 1)" font-size="45.00" fill="#000">5</text>
<text transform="translate(124.14 927.96) scale(1.0158 1)" font-size="54.40" fill="#000">10</text>
<text transform="translate(180.92 912.51) scale(0.7933 1.5)" font-size="45.00" fill="#333">−</text>
<text transform="translate(202.38 904.66) scale(0.9414 1)" font-size="45.00" fill="#000">6</text>
<text transform="translate(120.62 1076.16) scale(1.0831 1)" font-size="54.40" fill="#000">10</text>
<text transform="translate(177.20 1064.81) scale(0.7981 1.5)" font-size="45.00" fill="#333">−</text>
<text transform="translate(197.85 1052.80) scale(0.8938 1)" font-size="45.00" fill="#000">7</text>
<text transform="translate(117.78 1225.66) scale(1.0074 1)" font-size="54.40" fill="#000">10</text>
<text transform="translate(173.50 1213.91) scale(0.7981 1.5)" font-size="45.00" fill="#333">−</text>
<text transform="translate(195.80 1202.36) scale(0.8756 1)" font-size="45.00" fill="#000">8</text>
<text transform="translate(114.26 1368.56) scale(1.0747 1)" font-size="54.40" fill="#000">10</text>
<text transform="translate(171.15 1353.11) scale(0.8220 1.5)" font-size="45.00" fill="#333">−</text>
<text transform="translate(195.54 1344.76) scale(0.9373 1)" font-size="45.00" fill="#000">9</text>
<text transform="translate(777.88 1108.70) scale(1.1766 1)" font-size="54.60" fill="#000">(</text>
<text transform="translate(795.66 1110.80) scale(1.0096 1)" font-size="57.00" fill="#000">-0.69,</text>
<text transform="translate(926.78 1110.80) scale(1.0064 1)" font-size="57.00" fill="#000">2.34×10</text>
<text transform="translate(1111.15 1092.62) scale(1.0466 1.4)" font-size="45.00" fill="#000">−</text>
<text transform="translate(1135.33 1086.30) scale(0.8664 1)" font-size="45.00" fill="#000">7</text>
<text transform="translate(1154.40 1108.70) scale(1.3050 1)" font-size="54.60" fill="#000">)</text>
<text transform="translate(1291.18 995.20) scale(1.1766 1)" font-size="54.60" fill="#000">(</text>
<text transform="translate(1312.58 997.60) scale(1.0014 1)" font-size="57.00" fill="#000">-0.232,</text>
<text transform="translate(1473.04 997.60) scale(0.9895 1)" font-size="57.00" fill="#000">1.14×10</text>
<text transform="translate(1654.01 979.92) scale(1.1087 1.4)" font-size="45.00" fill="#000">−</text>
<text transform="translate(1677.74 974.96) scale(1.0142 1)" font-size="45.00" fill="#000">6</text>
<text transform="translate(1694.52 995.20) scale(1.2978 1)" font-size="54.60" fill="#000">)</text>
<text transform="translate(799.89 1547.50) scale(0.9695 1)" font-size="72.00" fill="#000">Potential,</text>
<text transform="translate(1077.31 1547.50) scale(0.9756 1)" font-size="72.00" fill="#000">V·vs·SCE</text>
<text transform="translate(80.80 898.82) rotate(-90) scale(0.8433 1)" font-size="72.00" fill="#000">lo</text>
<text transform="translate(80.80 849.15) rotate(-90) scale(0.9537 1)" font-size="72.00" fill="#000">gi,</text>
<text transform="translate(80.80 759.44) rotate(-90) scale(0.9530 1)" font-size="72.00" fill="#000">mA·mm</text>
<text transform="translate(57.54 527.25) rotate(-90) scale(0.8602 1.4)" font-size="50.00" fill="#000">−</text>
<text transform="translate(51.00 498.35) rotate(-90) scale(0.7675 1)" font-size="52.00" fill="#000">2</text>
</g>
</svg>
</body>
</html>
